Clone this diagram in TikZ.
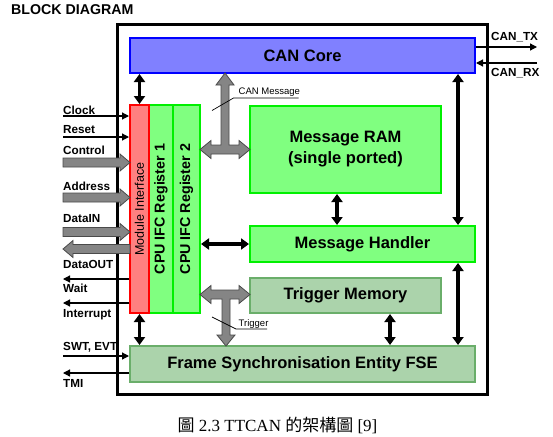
\documentclass[tikz,border=0pt]{standalone}
\usepackage{fontspec}
\setmainfont{Liberation Sans}
\newfontfamily\serifcap{Liberation Serif}
\newfontfamily\cjkfont{Noto Sans CJK TC}
\usetikzlibrary{arrows.meta}
\definecolor{coreF}{HTML}{8080FF}
\definecolor{coreD}{HTML}{0000FF}
\definecolor{redF}{HTML}{FF8080}
\definecolor{redD}{HTML}{FF0000}
\definecolor{grnF}{HTML}{80FF80}
\definecolor{grnD}{HTML}{00F000}
\definecolor{sageF}{HTML}{ABD3AB}
\definecolor{sageD}{HTML}{6AAE6A}
\definecolor{fatF}{HTML}{858585}
\definecolor{fatD}{HTML}{4A4A4A}
\newcommand\fatRight[3]{% y, x start, x tip
  \draw[fat] (#2,#1-4.5) -- (#3-10,#1-4.5) -- (#3-10,#1-8.5) -- (#3,#1) -- (#3-10,#1+8.5) -- (#3-10,#1+4.5) -- (#2,#1+4.5) -- cycle;}
\newcommand\fatLeft[3]{% y, x start, x tip
  \draw[fat] (#2,#1-4.5) -- (#3+10,#1-4.5) -- (#3+10,#1-8.5) -- (#3,#1) -- (#3+10,#1+8.5) -- (#3+10,#1+4.5) -- (#2,#1+4.5) -- cycle;}
\begin{document}
\begin{tikzpicture}[x=1pt,y=-1pt,
  box/.style={draw, line width=2pt, inner sep=0pt, align=center,
    font=\bfseries\fontsize{16.5}{21}\selectfont},
  corebox/.style={box, fill=coreF, draw=coreD},
  redbox/.style={box, fill=redF, draw=redD},
  grnbox/.style={box, fill=grnF, draw=grnD},
  sagebox/.style={box, fill=sageF, draw=sageD},
  dbl/.style={line width=3.2pt, {Triangle[width=11pt,length=8pt]}-{Triangle[width=11pt,length=8pt]}},
  sig/.style={line width=1.2pt, -{Triangle[width=7pt,length=7pt]}},
  fat/.style={fill=fatF, draw=fatD, line width=0.8pt, line join=miter},
  lbl/.style={font=\bfseries\fontsize{11.7}{14}\selectfont, inner sep=0pt, anchor=base west},
  small/.style={font=\fontsize{9.5}{11}\selectfont, inner sep=0pt, anchor=base west},
  lead/.style={line width=0.7pt}]
\useasboundingbox (0,0) rectangle (553,436);
\fill[white] (0,0) rectangle (553,436);

\node[font=\bfseries\fontsize{14.2}{17}\selectfont, inner sep=0pt, anchor=base west] (title) at (11,15) {BLOCK DIAGRAM};

% outer frame
\draw[line width=3pt] (117,25) rectangle (487,394);

% boxes
\node[corebox, minimum width=345pt, minimum height=35pt] (core) at (302.5,55.5) {CAN Core};
\node[grnbox, minimum width=24pt, minimum height=208pt] (r1) at (161,209) {};
\node[grnbox, minimum width=27pt, minimum height=208pt] (r2) at (186.5,209) {};
\node[redbox, minimum width=19pt, minimum height=208pt] (mi) at (139.5,209) {};
\node[rotate=90, font=\fontsize{12.5}{14}\selectfont, inner sep=0pt] (mit) at (mi.center) {Module Interface};
\node[rotate=90, font=\bfseries\fontsize{14.3}{16}\selectfont, inner sep=0pt] (r1t) at (r1.center) {CPU IFC Register 1};
\node[rotate=90, font=\bfseries\fontsize{14.3}{16}\selectfont, inner sep=0pt] (r2t) at (r2.center) {CPU IFC Register 2};
\node[grnbox, minimum width=191pt, minimum height=87pt] (ram) at (345.5,149.5) {Message RAM\\(single ported)};
\node[grnbox, minimum width=225pt, minimum height=36pt] (mh) at (362.5,244) {Message Handler};
\node[sagebox, minimum width=191pt, minimum height=35pt] (tm) at (345.5,295.5) {Trigger Memory};
\node[sagebox, minimum width=345pt, minimum height=36pt] (fse) at (302.5,364) {Frame Synchronisation Entity FSE};

% black double arrows
\draw[dbl] (core.south -| mi.north) -- (mi.north);
\draw[dbl] ([xshift=-8.5pt]ram.south) -- ([xshift=-8.5pt]ram.south |- mh.north);
\draw[dbl] ([xshift=-18pt]core.south east) -- ([xshift=-18pt]core.south east |- mh.north);
\draw[dbl] (mh.west -| r2.east) -- (mh.west);
\draw[dbl] (mi.south) -- (mi.south |- fse.north);
\draw[dbl] ([xshift=-52pt]tm.south east) -- ([xshift=-52pt]tm.south east |- fse.north);
\draw[dbl] ([xshift=-18pt]mh.south east) -- ([xshift=-18pt]mh.south east |- fse.north);

% gray T arrows
\draw[fat] (225,73) -- (234,85) -- (229,85) -- (229,145) -- (239,145) -- (239,140.5) -- (250,149.5)
  -- (239,158.5) -- (239,154) -- (211,154) -- (211,158.5) -- (200,149.5) -- (211,140.5) -- (211,145)
  -- (221,145) -- (221,85) -- (216,85) -- cycle;
\draw[fat] (200,294.5) -- (211,285.5) -- (211,290) -- (239,290) -- (239,285.5) -- (250,294.5)
  -- (239,303.5) -- (239,299) -- (230,299) -- (230,335) -- (235,335) -- (226,346) -- (217,335)
  -- (222,335) -- (222,299) -- (211,299) -- (211,303.5) -- cycle;

% leader labels
\node[small] (canmsg) at (238.5,94.5) {CAN Message};
\draw[lead] (212,110.5) -- (233.5,98) -- (298.5,98);
\node[small] (trig) at (238.5,326) {Trigger};
\draw[lead] (212,317) -- (236,329) -- (267,329);

% CAN TX / RX
\coordinate (tx) at (537,47);
\coordinate (rx) at (537,63);
\draw[sig] (tx -| core.east) -- (tx);
\draw[sig] (rx) -- (rx -| core.east);
\node[lbl] (ltx) at (491,40.5) {CAN\_TX};
\node[lbl] (lrx) at (491,76.5) {CAN\_RX};

% left thin signals
\coordinate (clk) at (63,116);
\coordinate (rst) at (63,137);
\coordinate (wt) at (63,279);
\coordinate (irq) at (63,303);
\coordinate (swt) at (63,356);
\coordinate (tmi) at (63,373);
\draw[sig] (clk) -- (clk -| mi.west);
\draw[sig] (rst) -- (rst -| mi.west);
\draw[sig] (wt -| mi.west) -- (wt);
\draw[sig] (irq -| mi.west) -- (irq);
\draw[sig] (swt) -- (swt -| fse.west);
\draw[sig] (tmi -| fse.west) -- (tmi);

% left fat signals
\fatRight{162.5}{63}{130}
\fatRight{197.5}{63}{130}
\fatRight{232}{63}{130}
\fatLeft{249}{130}{63}

% left labels
\node[lbl] (lclk) at (63,114) {Clock};
\node[lbl] (lrst) at (63,133.5) {Reset};
\node[lbl] (lctl) at (63,154) {Control};
\node[lbl] (ladr) at (63,190.5) {Address};
\node[lbl] (ldin) at (63,222.5) {DataIN};
\node[lbl] (ldout) at (63,268) {DataOUT};
\node[lbl] (lwait) at (63,292.5) {Wait};
\node[lbl] (lint) at (63,317) {Interrupt};
\node[lbl] (lswt) at (63,350.5) {SWT, EVT};
\node[lbl] (ltmi) at (63,387) {TMI};

% caption
\node[font=\serifcap\fontsize{17}{19}\selectfont, inner sep=0pt, anchor=base] (cap) at (277.5,431.5)
  {{\cjkfont 圖} 2.3 TTCAN {\cjkfont 的架構圖} [9]};
\end{tikzpicture}
\end{document}
